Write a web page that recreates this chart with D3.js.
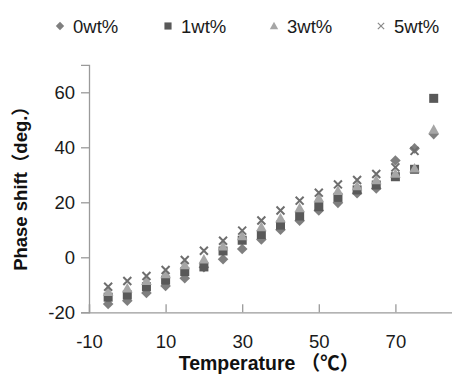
<!DOCTYPE html>
<html lang="en">
<head>
<meta charset="UTF-8">
<title>Phase shift</title>
<script src="https://d3js.org/d3.v7.min.js"></script>
<style>
  body { margin: 0; background: #fff; }
  svg { display: block; }
</style>
</head>
<body>
<div class="canvas"></div>
<script>
// data
let temps = [-5, 0, 5, 10, 15, 20, 25, 30, 35, 40, 45, 50, 55, 60, 65, 70, 75, 80];
let wt0 = [-17, -15.8, -13, -10.4, -7.6, -3.6, -0.7, 3, 6.5, 10, 13.3, 17, 19.8, 23.3, 25, 35.2, 39.6, 44.8];
let wt1 = [-14.5, -13.7, -10.7, -8.3, -5.2, -3.5, 2.3, 6.2, 8.3, 11.7, 15, 18.4, 21.8, 24.5, 26.3, 29.3, 32, 57.8];
let wt3 = [-12.5, -11.3, -8.5, -6.1, -2.8, -0.7, 4, 7.7, 11, 14.2, 17.9, 21.6, 24.2, 25.9, 28.1, 30.5, 32.4, 46.5];
let wt5 = [-10.7, -8.6, -6.8, -4.6, -1, 2.4, 6, 9.7, 13.4, 17, 20.6, 23.5, 26.5, 28.1, 30.3, 32.7, 38.7, null];
let seriesNames = ["0wt%", "1wt%", "3wt%", "5wt%"];
let xTicks = [-10, 10, 30, 50, 70];
let yTicks = [-20, 0, 20, 40, 60];

let W = 452, H = 376;
let font = "'Liberation Sans', 'Noto Sans CJK SC', sans-serif";

let svg = d3.select(".canvas").append("svg")
    .attr("width", W).attr("height", H);

// scales
let x = d3.scaleLinear().domain([-10, 90]).range([89, 472]);
let y = d3.scaleLinear().domain([-20, 70]).range([312.3, 64.8]);

// marker shapes (size = half width)
let shapes = [
    { draw(c, r) { c.moveTo(0, -r); c.lineTo(r, 0); c.lineTo(0, r); c.lineTo(-r, 0); c.closePath(); } },
    { draw(c, r) { r = r * 0.85; c.rect(-r, -r, 2 * r, 2 * r); } },
    { draw(c, r) { c.moveTo(0, -r); c.lineTo(r, r * 0.8); c.lineTo(-r, r * 0.8); c.closePath(); } },
    { draw(c, r) { r = r * 0.75; c.moveTo(-r, -r); c.lineTo(r, r); c.moveTo(r, -r); c.lineTo(-r, r); } }
];
let colors = ["#7f7f7f", "#595959", "#a6a6a6", "#6e6e6e"];

// axes
let axis_g = svg.append("g").attr("class", "axis");
axis_g.append("g")
    .attr("transform", "translate(89,0)")
    .call(d3.axisLeft(y).tickValues(yTicks).tickFormat(d => String(d))
        .tickSizeOuter(0).tickSize(8).tickPadding(6));
axis_g.append("g")
    .attr("transform", "translate(0,312.3)")
    .call(d3.axisBottom(x).tickValues(xTicks).tickFormat(d => String(d))
        .tickSizeOuter(0).tickSize(-8).tickPadding(23));
axis_g.selectAll(".domain, .tick line").attr("stroke", "#9a9a9a").attr("stroke-width", 1.3);
axis_g.selectAll(".tick text")
    .attr("fill", "#1a1a1a")
    .style("font-family", font)
    .style("font-size", "18.5px");

// axis titles
svg.append("text")
    .attr("x", 269).attr("y", 370)
    .attr("text-anchor", "middle")
    .style("font-family", font).style("font-size", "19.5px").style("font-weight", "bold")
    .attr("fill", "#111")
    .text("Temperature （℃）");
svg.append("text")
    .attr("transform", "translate(27,184) rotate(-90)")
    .attr("text-anchor", "middle")
    .style("font-family", font).style("font-size", "18.5px").style("font-weight", "bold")
    .attr("fill", "#111")
    .text("Phase shift（deg.）");

// points
let all = [wt0, wt1, wt3, wt5];
all.forEach((vals, s) => {
    let pts = temps.map((t, i) => ({ t: t, v: vals[i] })).filter(d => d.v != null);
    let sym = d3.symbol().type(shapes[s]).size(5.3);
    svg.append("g").selectAll("path").data(pts).enter().append("path")
        .attr("transform", d => "translate(" + x(d.t) + "," + y(d.v) + ")")
        .attr("d", sym)
        .attr("fill", s == 3 ? "none" : colors[s])
        .attr("stroke", s == 3 ? colors[s] : "none")
        .attr("stroke-width", 2);
});

// legend
let legX = [60, 168, 274, 381];
let leg = svg.append("g").attr("class", "legend");
seriesNames.forEach((name, s) => {
    let sym = d3.symbol().type(shapes[s]).size(4.2);
    leg.append("path")
        .attr("transform", "translate(" + legX[s] + ",26)")
        .attr("d", sym)
        .attr("fill", s == 3 ? "none" : colors[s])
        .attr("stroke", s == 3 ? "#8a8a8a" : "none")
        .attr("stroke-width", 1.2);
    leg.append("text")
        .attr("x", legX[s] + 13).attr("y", 33)
        .style("font-family", font).style("font-size", "18.5px")
        .attr("fill", "#1a1a1a")
        .text(name);
});
</script>
</body>
</html>
